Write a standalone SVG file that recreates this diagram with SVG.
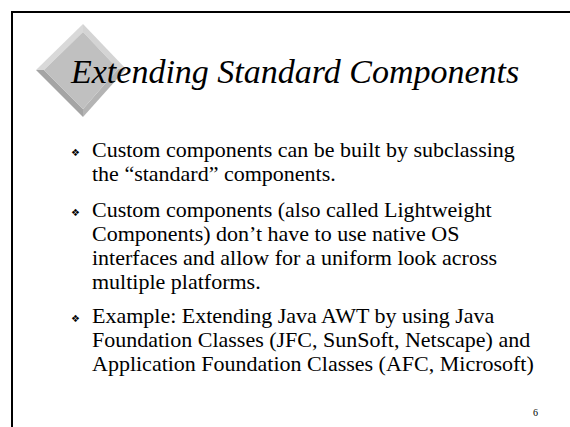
<svg xmlns="http://www.w3.org/2000/svg" width="570" height="427" viewBox="0 0 570 427">
<style>
.t{font-family:"Liberation Serif","Times New Roman",serif;fill:#000}
.title{font-size:34px;font-style:italic}
.b{font-size:22px}
.bul{font-family:"DejaVu Sans",sans-serif;font-size:10px;fill:#000}
</style>
<rect width="570" height="427" fill="#fff"/>
<g id="frame">
<path d="M12 427 V12 H570" fill="none" stroke="#000" stroke-width="2"/>
</g>
<g id="logo">
<polygon points="83,24 126,69 118,69 83,32" fill="#d4d4d4"/>
<polygon points="36,70 83,24 83,32 44,70" fill="#d9d9d9"/>
<polygon points="36,70 44,70 83,109 83,117" fill="#a4a4a4"/>
<polygon points="83,117 83,109 118,69 126,69" fill="#b4b4b4"/>
<polygon points="83,32 118,69 83,109 44,70" fill="#c0c0c0"/>
</g>
<g id="title">
<text class="t title" x="71" y="83">Extending Standard Components</text>
</g>
<g id="bullets">
<text class="bul" x="71" y="156">❖</text>
<text class="t b" x="92" y="157">Custom components can be built by subclassing</text>
<text class="t b" x="92" y="181">the “standard” components.</text>
<text class="bul" x="71" y="216">❖</text>
<text class="t b" x="92" y="217">Custom components (also called Lightweight</text>
<text class="t b" x="92" y="241">Components) don’t have to use native OS</text>
<text class="t b" x="92" y="265">interfaces and allow for a uniform look across</text>
<text class="t b" x="92" y="289">multiple platforms.</text>
<text class="bul" x="71" y="322">❖</text>
<text class="t b" x="92" y="323">Example: Extending Java AWT by using Java</text>
<text class="t b" x="92" y="347">Foundation Classes (JFC, SunSoft, Netscape) and</text>
<text class="t b" x="92" y="371">Application Foundation Classes (AFC, Microsoft)</text>
</g>
<g id="pagenum">
<text class="t" x="533" y="416" font-size="10">6</text>
</g>
</svg>
